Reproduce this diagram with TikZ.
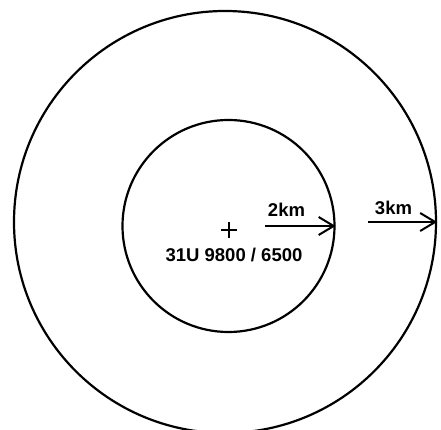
\documentclass[tikz,border=0pt]{standalone}
\usepackage{fontspec}
\setmainfont{Liberation Sans}
\usetikzlibrary{arrows.meta}
\begin{document}
\begin{tikzpicture}[x=1pt,y=1pt,
  ring/.style={circle,draw,line width=2.2pt,inner sep=0pt},
  lbl/.style={font=\bfseries\fontsize{18.5}{20}\selectfont,inner sep=0pt,anchor=base},
  radius arrow/.style={line width=2.2pt,-{Straight Barb[length=15pt,width=18pt,line width=2pt]}}]
\useasboundingbox (0,0) rectangle (441,430);
\clip (0,0) rectangle (441,430);
\fill[white] (0,0) rectangle (441,430);
\node[ring,minimum size=422pt] (outer) at (225,208) {};
\node[ring,minimum size=212pt] (inner) at (228.5,204) {};
\node[inner sep=0pt,minimum size=0pt] (ctr) at (229,200) {};
\draw[line width=2.8pt] ([xshift=-8pt]ctr.center) -- ([xshift=8pt]ctr.center);
\draw[line width=2.8pt] ([yshift=-8pt]ctr.center) -- ([yshift=8pt]ctr.center);
\node[lbl] (coord) at (234,168) {31U 9800 / 6500};
\coordinate (a2) at (265,204);
\coordinate (a3) at (368,208);
\draw[radius arrow] (a2) -- (inner.east);
\draw[radius arrow] (a3) -- (outer.east);
\node[lbl] (l2) at (286.5,213) {2km};
\node[lbl] (l3) at (393.5,215) {3km};
\end{tikzpicture}
\end{document}
